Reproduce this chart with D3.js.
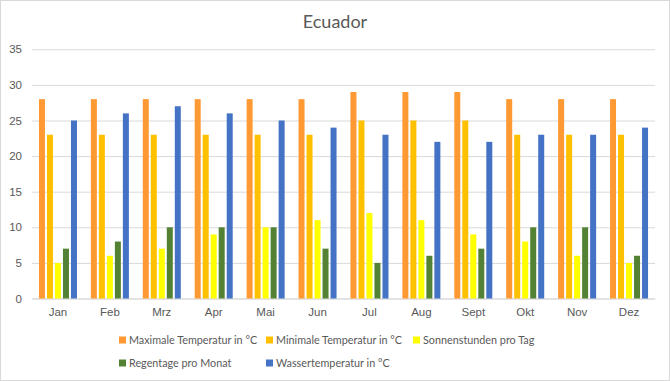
<!DOCTYPE html>
<html><head><meta charset="utf-8">
<script src="https://cdn.jsdelivr.net/npm/d3@7"></script>
<style>body{margin:0;background:#fff;} svg{display:block;font-family:Lato,"Open Sans",sans-serif;}</style>
</head><body><svg id="c" width="670" height="381"></svg>
<script>
const months = ["Jan","Feb","Mrz","Apr","Mai","Jun","Jul","Aug","Sept","Okt","Nov","Dez"];
const seriesNames = ["Maximale Temperatur in °C","Minimale Temperatur in °C","Sonnenstunden pro Tag","Regentage pro Monat","Wassertemperatur in °C"];
const maxTemp = [28,28,28,28,28,28,29,29,29,28,28,28];
const minTemp = [23,23,23,23,23,23,25,25,25,23,23,23];
const sunHours = [5,6,7,9,10,11,12,11,9,8,6,5];
const rainDays = [7,8,10,10,10,7,5,6,7,10,10,6];
const waterTemp = [25,26,27,26,25,24,23,22,22,23,23,24];
const colors = ["#FF9933","#FFC000","#FFFF00","#548235","#4472C4"];
const yTicks = [0,5,10,15,20,25,30,35];

(function(){
const seriesValues = [maxTemp,minTemp,sunHours,rainDays,waterTemp];
const svg = d3.select("#c");
svg.append("rect").attr("x",0.5).attr("y",0.5).attr("width",669).attr("height",380)
  .attr("fill","#fff").attr("stroke","#D9D9D9");

const pl=32, pr=655, pt=49.3, pb=298.5;
const y = d3.scaleLinear().domain([0,35]).range([pb,pt]);
const x0 = d3.scaleBand().domain(months).range([pl,pr]).paddingInner(0.268).paddingOuter(0.134);
const x1 = d3.scaleBand().domain(d3.range(5)).range([0,x0.bandwidth()]).paddingInner(0.25);

svg.append("text").attr("x",335).attr("y",28).attr("text-anchor","middle")
  .attr("font-size",18).attr("fill","#595959").text("Ecuador");

const yAxis = d3.axisLeft(y).tickValues(yTicks).tickSize(-(pr-pl)).tickPadding(10);
const gy = svg.append("g").attr("transform",`translate(${pl},0)`).call(yAxis);
gy.select(".domain").remove();
gy.selectAll("line").attr("stroke","#D9D9D9");
gy.selectAll("text").attr("fill","#595959").attr("font-size",11.5).attr("x",-10);

const xAxis = d3.axisBottom(x0).tickSize(0).tickPadding(9);
const gx = svg.append("g").attr("transform",`translate(0,${pb})`).call(xAxis);
gx.select(".domain").attr("stroke","#D9D9D9");
gx.selectAll("text").attr("fill","#595959").attr("font-size",11.5);

const groups = svg.append("g").selectAll("g").data(months).join("g")
  .attr("transform",d=>`translate(${x0(d)},0)`);
groups.selectAll("rect").data((m,i)=>seriesValues.map((s,k)=>({k,v:s[i]}))).join("rect")
  .attr("x",d=>x1(d.k)).attr("width",x1.bandwidth())
  .attr("y",d=>y(d.v)).attr("height",d=>y(0)-y(d.v)).attr("fill",d=>colors[d.k]);

const legendPos = [[119,340],[266,340],[413,340],[119,363],[266,363]];
const lg = svg.append("g").selectAll("g").data(seriesNames).join("g")
  .attr("transform",(d,i)=>`translate(${legendPos[i][0]},${legendPos[i][1]})`);
lg.append("rect").attr("x",0).attr("y",-3.5).attr("width",7).attr("height",7).attr("fill",(d,i)=>colors[i]);
lg.append("text").attr("x",10).attr("y",4).attr("font-size",10.8).attr("fill","#595959").text(d=>d);
})();
</script></body></html>
